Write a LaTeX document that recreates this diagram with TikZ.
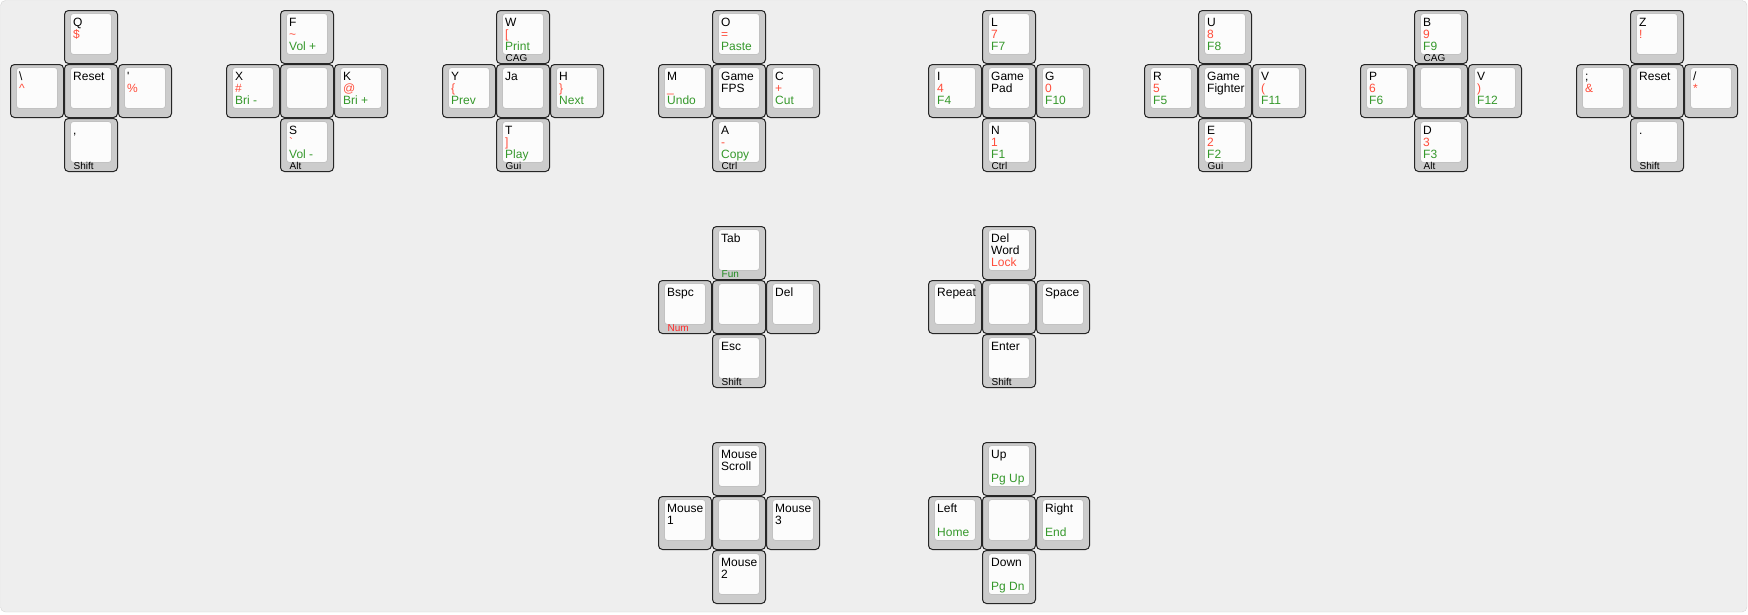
\documentclass[tikz,border=0pt]{standalone}
\usepackage{fontspec}
\setmainfont{Liberation Sans}
\usepackage{tikz}
\definecolor{keybg}{HTML}{EEEEEE}
\definecolor{keyframe}{HTML}{D6D6D6}
\definecolor{keygray}{HTML}{CCCCCC}
\definecolor{keyface}{HTML}{FCFCFC}
\definecolor{keyrim}{HTML}{C2C2C2}
\definecolor{keyred}{HTML}{FF4D3B}
\definecolor{keygreen}{HTML}{35982B}
\definecolor{holdred}{HTML}{FF2A2A}
\definecolor{holdgreen}{HTML}{1F8A1F}
% name, x, y (top left, px), line 1, line 2, line 3, hold
\newcommand{\keycap}[7]{%
  \node[keyouter] (#1) at (#2,#3) {};
  \node[keyinner] (#1-in) at (#2+6,#3+3) {};
  \node[keytext] (#1-a) at (#2+8.5,#3+15.7) {#4};
  \node[keytext,text=keyred] (#1-b) at (#2+8.5,#3+27.7) {#5};
  \node[keytext,text=keygreen] (#1-c) at (#2+8.5,#3+39.7) {#6};
  \node[holdtext] (#1-h) at (#2+9,#3+50.7) {#7};
}

\begin{document}
\begin{tikzpicture}[x=1pt,y=-1pt,
  keyouter/.style={draw=black!85,fill=keygray,line width=1pt,rounded corners=4pt,
    minimum width=53pt,minimum height=53pt,anchor=north west,inner sep=0pt,outer sep=0pt},
  keyinner/.style={draw=keyrim,fill=keyface,line width=0.8pt,rounded corners=3pt,
    minimum width=41pt,minimum height=41pt,anchor=north west,inner sep=0pt,outer sep=0pt},
  keytext/.style={anchor=base west,inner sep=0pt,font=\fontsize{12}{12}\selectfont},
  holdtext/.style={anchor=base west,inner sep=0pt,font=\fontsize{10}{10}\selectfont}]
\useasboundingbox (0,0) rectangle (1748,614);
\draw[draw=keyframe,fill=keybg,rounded corners=5pt] (0.5,0.5) rectangle (1747,612);

% top row, left hand
\keycap{q}{64.5}{10.5}{Q}{\$}{}{}
\keycap{bslash}{10.5}{64.5}{\textbackslash}{\textasciicircum}{}{}
\keycap{resetl}{64.5}{64.5}{Reset}{}{}{}
\keycap{quote}{118.5}{64.5}{\textquotesingle}{\%}{}{}
\keycap{comma}{64.5}{118.5}{,}{}{}{Shift}

\keycap{f}{280.5}{10.5}{F}{\textasciitilde}{Vol +}{}
\keycap{x}{226.5}{64.5}{X}{\#}{Bri -}{}
\keycap{midb}{280.5}{64.5}{}{}{}{}
\keycap{k}{334.5}{64.5}{K}{@}{Bri +}{}
\keycap{s}{280.5}{118.5}{S}{\textasciigrave}{Vol -}{Alt}

\keycap{w}{496.5}{10.5}{W}{[}{Print}{CAG}
\keycap{y}{442.5}{64.5}{Y}{\{}{Prev}{}
\keycap{ja}{496.5}{64.5}{Ja}{}{}{}
\keycap{h}{550.5}{64.5}{H}{\}}{Next}{}
\keycap{t}{496.5}{118.5}{T}{]}{Play}{Gui}

\keycap{o}{712.5}{10.5}{O}{=}{Paste}{}
\keycap{m}{658.5}{64.5}{M}{\_}{Undo}{}
\keycap{fps}{712.5}{64.5}{Game}{\textcolor{black}{FPS}}{}{}
\keycap{c}{766.5}{64.5}{C}{+}{Cut}{}
\keycap{a}{712.5}{118.5}{A}{-}{Copy}{Ctrl}

% top row, right hand
\keycap{l}{982.5}{10.5}{L}{7}{F7}{}
\keycap{i}{928.5}{64.5}{I}{4}{F4}{}
\keycap{pad}{982.5}{64.5}{Game}{\textcolor{black}{Pad}}{}{}
\keycap{g}{1036.5}{64.5}{G}{0}{F10}{}
\keycap{n}{982.5}{118.5}{N}{1}{F1}{Ctrl}

\keycap{u}{1198.5}{10.5}{U}{8}{F8}{}
\keycap{r}{1144.5}{64.5}{R}{5}{F5}{}
\keycap{fighter}{1198.5}{64.5}{Game}{\textcolor{black}{Fighter}}{}{}
\keycap{v}{1252.5}{64.5}{V}{(}{F11}{}
\keycap{e}{1198.5}{118.5}{E}{2}{F2}{Gui}

\keycap{b}{1414.5}{10.5}{B}{9}{F9}{CAG}
\keycap{p}{1360.5}{64.5}{P}{6}{F6}{}
\keycap{midg}{1414.5}{64.5}{}{}{}{}
\keycap{vv}{1468.5}{64.5}{V}{)}{F12}{}
\keycap{d}{1414.5}{118.5}{D}{3}{F3}{Alt}

\keycap{z}{1630.5}{10.5}{Z}{!}{}{}
\keycap{semi}{1576.5}{64.5}{;}{\&}{}{}
\keycap{resetr}{1630.5}{64.5}{Reset}{}{}{}
\keycap{slash}{1684.5}{64.5}{/}{*}{}{}
\keycap{dot}{1630.5}{118.5}{.}{}{}{Shift}

% thumb keys
\keycap{tab}{712.5}{226.5}{Tab}{}{}{\textcolor{holdgreen}{Fun}}
\keycap{bspc}{658.5}{280.5}{Bspc}{}{}{\textcolor{holdred}{Num}}
\keycap{midt}{712.5}{280.5}{}{}{}{}
\keycap{del}{766.5}{280.5}{Del}{}{}{}
\keycap{esc}{712.5}{334.5}{Esc}{}{}{Shift}

\keycap{delword}{982.5}{226.5}{Del}{\textcolor{black}{Word}}{\textcolor{keyred}{Lock}}{}
\keycap{repeat}{928.5}{280.5}{Repeat}{}{}{}
\keycap{midr}{982.5}{280.5}{}{}{}{}
\keycap{space}{1036.5}{280.5}{Space}{}{}{}
\keycap{enter}{982.5}{334.5}{Enter}{}{}{Shift}

% mouse and arrows
\keycap{scroll}{712.5}{442.5}{Mouse}{\textcolor{black}{Scroll}}{}{}
\keycap{mone}{658.5}{496.5}{Mouse}{\textcolor{black}{1}}{}{}
\keycap{midm}{712.5}{496.5}{}{}{}{}
\keycap{mthree}{766.5}{496.5}{Mouse}{\textcolor{black}{3}}{}{}
\keycap{mtwo}{712.5}{550.5}{Mouse}{\textcolor{black}{2}}{}{}

\keycap{up}{982.5}{442.5}{Up}{}{Pg Up}{}
\keycap{left}{928.5}{496.5}{Left}{}{Home}{}
\keycap{mida}{982.5}{496.5}{}{}{}{}
\keycap{right}{1036.5}{496.5}{Right}{}{End}{}
\keycap{down}{982.5}{550.5}{Down}{}{Pg Dn}{}
\end{tikzpicture}
\end{document}
